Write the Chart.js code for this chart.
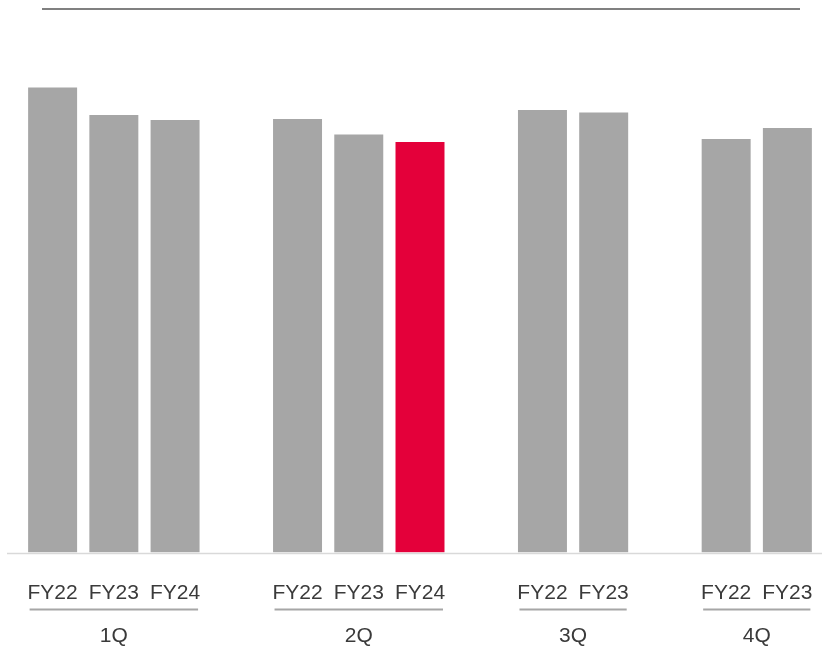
<!DOCTYPE html>
<html>
<head>
<meta charset="utf-8">
<script src="https://cdn.jsdelivr.net/npm/chart.js@4.4.1/dist/chart.umd.min.js"></script>
<style>
  html, body { margin: 0; padding: 0; background: #fff; }
  canvas { display: block; }
</style>
</head>
<body>
<canvas id="chart" width="822" height="646"></canvas>
<script>
// quarters, the fiscal years shown in each, and the bar heights (no axis in the source, relative units)
const quarters = ["1Q", "2Q", "3Q", "4Q"]
const fiscalYears = [
  ["FY22", "FY23", "FY24"],
  ["FY22", "FY23", "FY24"],
  ["FY22", "FY23"],
  ["FY22", "FY23"]
]
const values = [
  [465, 437.5, 432.5],
  [433.5, 418, 410.5],
  [442.5, 440],
  [413.5, 424.5]
]
const highlightQuarter = "2Q"
const highlightYear = "FY24"

const GREY = "#a6a6a6"
const RED = "#e4003a"
const TEXT = "#3a3a3a"
const FONT = '21px "Liberation Sans", Arial, sans-serif'

// one slot per bar, with an empty slot between quarters
const slotLabels = []
const slotData = []
const slotColors = []
const groupSlots = []
quarters.forEach((q, gi) => {
  const idx = []
  fiscalYears[gi].forEach((fy, i) => {
    idx.push(slotLabels.length)
    slotLabels.push(fy)
    slotData.push(values[gi][i])
    slotColors.push(q === highlightQuarter && fy === highlightYear ? RED : GREY)
  })
  groupSlots.push(idx)
  if (gi < quarters.length - 1) {
    slotLabels.push("")
    slotData.push(null)
    slotColors.push(GREY)
  }
})

const decorations = {
  id: "decorations",
  afterDraw(chart) {
    const ctx = chart.ctx
    const x = chart.scales.x
    const area = chart.chartArea
    ctx.save()

    // rule at the top
    ctx.strokeStyle = "#808080"
    ctx.lineWidth = 2
    ctx.beginPath()
    ctx.moveTo(42, area.top + 1)
    ctx.lineTo(800, area.top + 1)
    ctx.stroke()

    // baseline
    ctx.strokeStyle = "#d9d9d9"
    ctx.lineWidth = 1.5
    ctx.beginPath()
    ctx.moveTo(7, area.bottom + 1)
    ctx.lineTo(822, area.bottom + 1)
    ctx.stroke()

    ctx.font = FONT
    ctx.fillStyle = TEXT
    ctx.textAlign = "center"
    ctx.textBaseline = "middle"

    // fiscal year labels under each bar
    slotLabels.forEach((lbl, i) => {
      if (lbl) ctx.fillText(lbl, x.getPixelForValue(i), area.bottom + 41)
    })

    // quarter underline + label
    groupSlots.forEach((idx, gi) => {
      const x0 = x.getPixelForValue(idx[0]) - 23
      const x1 = x.getPixelForValue(idx[idx.length - 1]) + 23
      ctx.strokeStyle = GREY
      ctx.lineWidth = 2
      ctx.beginPath()
      ctx.moveTo(x0, area.bottom + 57)
      ctx.lineTo(x1, area.bottom + 57)
      ctx.stroke()
      ctx.fillText(quarters[gi], (x0 + x1) / 2, area.bottom + 84)
    })

    ctx.restore()
  }
}

new Chart(document.getElementById("chart"), {
  type: "bar",
  data: {
    labels: slotLabels,
    datasets: [{
      data: slotData,
      backgroundColor: slotColors,
      borderWidth: 0,
      barPercentage: 0.8,
      categoryPercentage: 1
    }]
  },
  options: {
    responsive: false,
    animation: false,
    layout: { padding: { left: 22, right: 4, top: 8, bottom: 93.5 } },
    plugins: {
      legend: { display: false },
      tooltip: { enabled: false }
    },
    scales: {
      x: { display: false },
      y: { display: false, min: 0, max: 544.5 }
    }
  },
  plugins: [decorations]
})
</script>
</body>
</html>
